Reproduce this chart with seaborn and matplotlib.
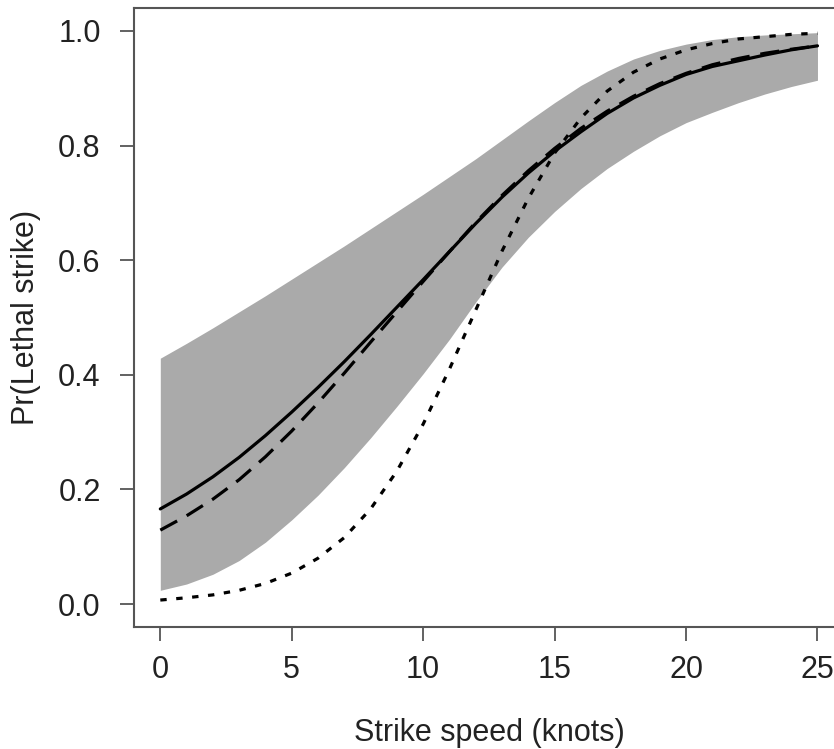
import matplotlib
matplotlib.use("Agg")
import matplotlib.pyplot as plt
import seaborn as sns
import pandas as pd

# strike speed in knots
speed = list(range(26))

# fitted probability of a lethal strike (solid line)
p_fit = [0.166, 0.192, 0.222, 0.256, 0.294, 0.335, 0.378, 0.423, 0.470, 0.518,
         0.566, 0.615, 0.664, 0.710, 0.752, 0.790, 0.824, 0.856, 0.883, 0.905,
         0.924, 0.938, 0.948, 0.958, 0.967, 0.974]

# alternative fit (dashed line)
p_dashed = [0.129, 0.154, 0.183, 0.217, 0.257, 0.302, 0.351, 0.403, 0.457, 0.510,
            0.563, 0.615, 0.666, 0.713, 0.756, 0.795, 0.830, 0.860, 0.886, 0.908,
            0.926, 0.941, 0.952, 0.961, 0.968, 0.974]

# earlier model (dotted line)
p_dotted = [0.007, 0.011, 0.016, 0.024, 0.036, 0.054, 0.080, 0.116, 0.166, 0.232,
            0.314, 0.410, 0.513, 0.616, 0.708, 0.787, 0.848, 0.895, 0.928, 0.951,
            0.967, 0.978, 0.986, 0.990, 0.994, 0.996]

# confidence band around the solid line
ci_upper = [0.429, 0.455, 0.482, 0.510, 0.538, 0.567, 0.596, 0.625, 0.655, 0.685,
            0.715, 0.746, 0.777, 0.810, 0.843, 0.875, 0.905, 0.930, 0.951, 0.966,
            0.977, 0.985, 0.990, 0.993, 0.995, 0.997]
ci_lower = [0.024, 0.035, 0.052, 0.076, 0.108, 0.147, 0.190, 0.238, 0.290, 0.345,
            0.402, 0.462, 0.527, 0.588, 0.640, 0.685, 0.725, 0.760, 0.790, 0.817,
            0.840, 0.858, 0.875, 0.890, 0.903, 0.914]

df = pd.DataFrame({
    "speed": speed,
    "fit": p_fit,
    "dashed": p_dashed,
    "dotted": p_dotted,
    "lower": ci_lower,
    "upper": ci_upper,
})

sns.set_theme(style="ticks")
plt.rcParams["font.family"] = ["Liberation Sans", "DejaVu Sans"]

fig = plt.figure(figsize=(8.34, 7.49), dpi=100)
# axes run past the right edge, as in the cropped original
ax = fig.add_axes([0.1607, 0.1629, 0.851, 0.8264])

ax.fill_between(df["speed"], df["lower"], df["upper"], color="#aaaaaa", lw=0)

lw = 2.3
sns.lineplot(data=df, x="speed", y="fit", ax=ax, color="black", lw=lw)
sns.lineplot(data=df, x="speed", y="dashed", ax=ax, color="black", lw=lw,
             linestyle=(0, (6, 3.4)))
sns.lineplot(data=df, x="speed", y="dotted", ax=ax, color="black", lw=lw,
             linestyle=(0, (2, 3)))

ax.set_xlim(-1, 26)
ax.set_ylim(-0.04, 1.04)
ax.set_xticks([0, 5, 10, 15, 20, 25])
ax.set_yticks([0.0, 0.2, 0.4, 0.6, 0.8, 1.0])
ax.set_yticklabels(["0.0", "0.2", "0.4", "0.6", "0.8", "1.0"])

ax.set_xlabel("Strike speed (knots)", fontsize=22, color="#222222", labelpad=24)
ax.set_ylabel("Pr(Lethal strike)", fontsize=22, color="#222222", labelpad=12)
ax.tick_params(axis="both", labelsize=22, labelcolor="#222222", color="#555555",
               length=10, width=1.3, direction="out", pad=10)
ax.tick_params(axis="y", pad=14)

for side in ["left", "bottom", "top", "right"]:
    ax.spines[side].set_visible(True)
    ax.spines[side].set_color("#555555")
    ax.spines[side].set_linewidth(1.5)

fig.savefig("out.png", dpi=100)
